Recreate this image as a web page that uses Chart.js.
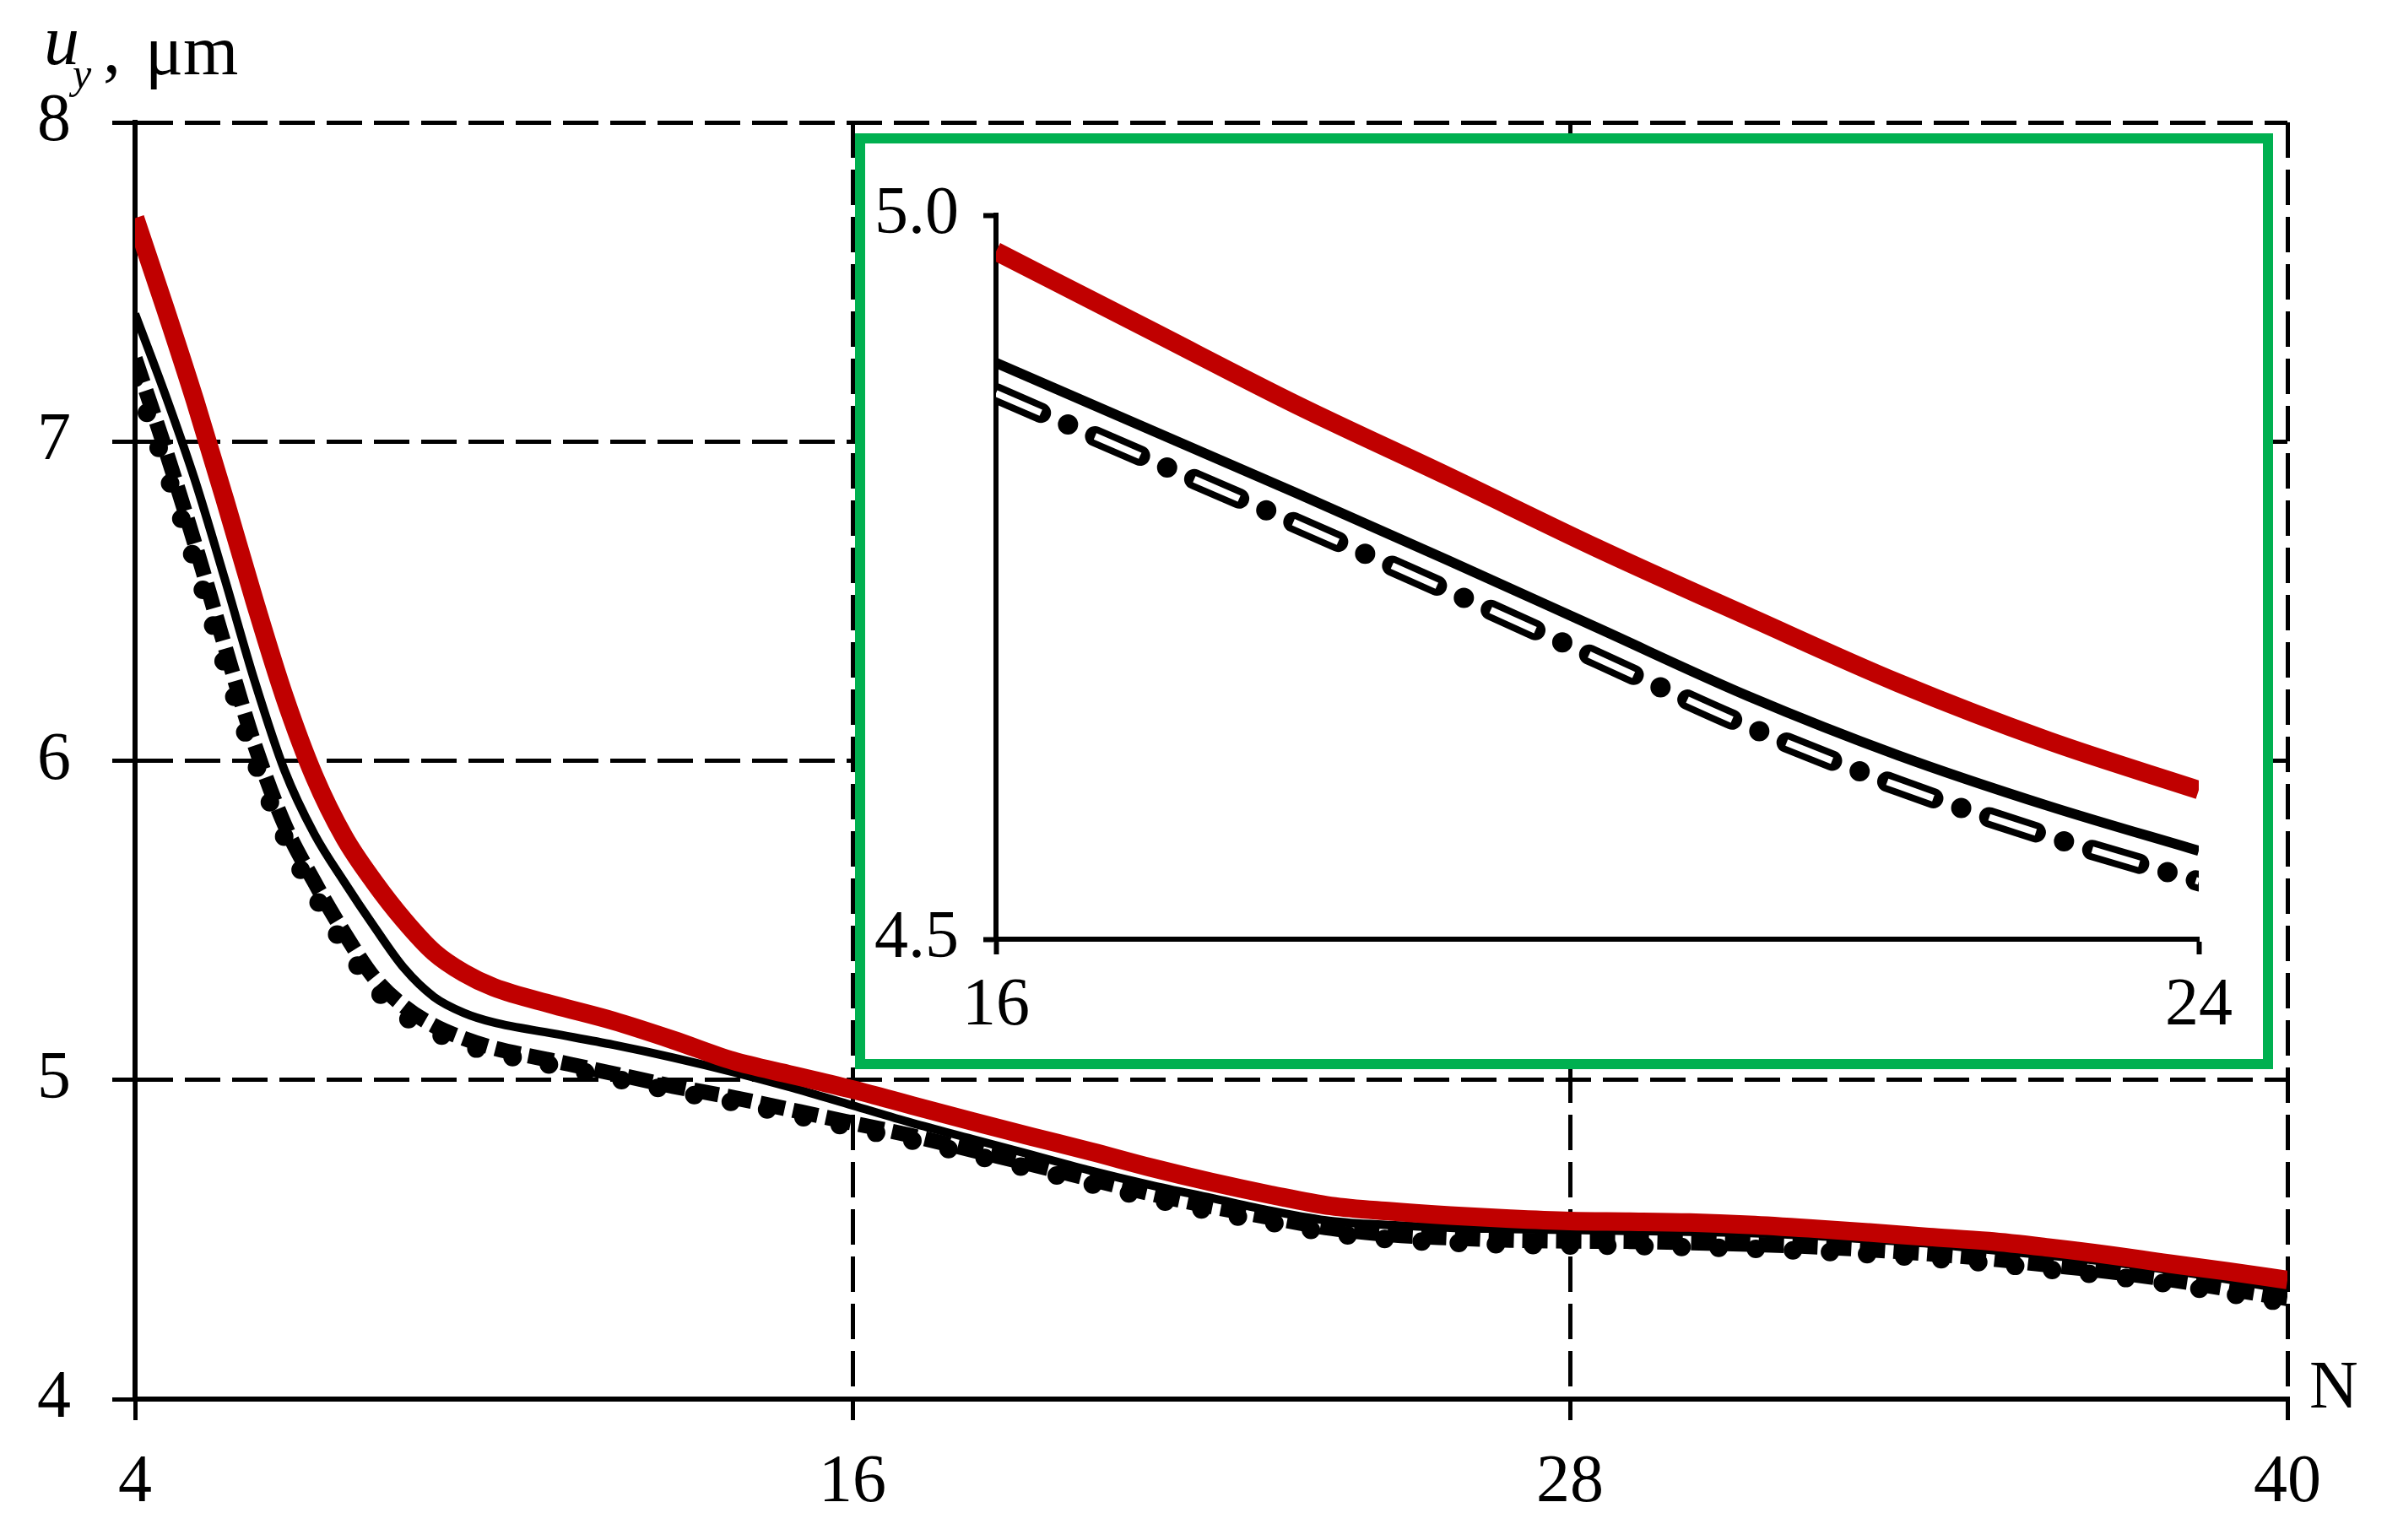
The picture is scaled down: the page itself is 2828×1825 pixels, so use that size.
<!DOCTYPE html>
<html lang="en">
<head>
<meta charset="UTF-8">
<title>u_y vs N</title>
<script src="https://cdn.jsdelivr.net/npm/chart.js"></script>
<style>
  html, body { margin: 0; padding: 0; background: #fff; }
  #wrap { position: relative; width: 2828px; height: 1825px; }
  #main { position: absolute; left: 0; top: 0; }
  #inset {
    position: absolute; left: 1013px; top: 158px; width: 1680px; height: 1109px;
    box-sizing: border-box; border: 12px solid #00B050; background: #fff;
  }
  #zoom { display: block; }
</style>
</head>
<body>
<div id="wrap">
  <canvas id="main" width="2828" height="1825"></canvas>
  <div id="inset"><canvas id="zoom" width="1656" height="1085"></canvas></div>
</div>

<script>
// ---- main chart data (N = number of cycles, u_y in µm) ----
const N_MAIN = [4, 4.5, 5, 5.5, 6, 6.5, 7, 7.5, 8, 8.5, 9, 9.5, 10,
  11, 12, 13, 14, 15, 16, 17, 18, 19, 20, 21, 22, 23, 24, 25, 26, 27, 28,
  29, 30, 31, 32, 33, 34, 35, 36, 37, 38, 39, 40];
const RED_MAIN = [7.70, 7.42, 7.13, 6.82, 6.50, 6.20, 5.95, 5.76, 5.62, 5.50, 5.40, 5.335, 5.29,
  5.235, 5.185, 5.125, 5.06, 5.015, 4.97, 4.92, 4.87, 4.822, 4.775, 4.725, 4.68, 4.64, 4.605,
  4.588, 4.575, 4.565, 4.558, 4.556, 4.553, 4.546, 4.535, 4.522, 4.508, 4.495, 4.475, 4.452,
  4.425, 4.40, 4.373];
const SOLID_MAIN = [7.40, 7.15, 6.88, 6.57, 6.25, 5.97, 5.77, 5.62, 5.48, 5.35, 5.26, 5.21, 5.18,
  5.145, 5.11, 5.07, 5.025, 4.975, 4.92, 4.865, 4.815, 4.765, 4.715, 4.67, 4.63, 4.59, 4.558,
  4.545, 4.537, 4.533, 4.53, 4.527, 4.524, 4.52, 4.512, 4.50, 4.487, 4.468, 4.45, 4.43,
  4.405, 4.375, 4.343];
const DASH_MAIN = [7.26, 6.98, 6.68, 6.36, 6.05, 5.80, 5.62, 5.46, 5.32, 5.23, 5.17, 5.13, 5.10,
  5.06, 5.02, 4.98, 4.945, 4.905, 4.865, 4.825, 4.78, 4.735, 4.688, 4.643, 4.603, 4.568, 4.535,
  4.515, 4.505, 4.498, 4.495, 4.494, 4.49, 4.485, 4.478, 4.468, 4.455, 4.44, 4.42, 4.40,
  4.375, 4.345, 4.315];
const DOT_MAIN = [7.20, 6.92, 6.62, 6.30, 6.00, 5.76, 5.58, 5.42, 5.29, 5.20, 5.15, 5.11, 5.085,
  5.045, 5.005, 4.965, 4.93, 4.89, 4.85, 4.81, 4.765, 4.72, 4.673, 4.628, 4.588, 4.553, 4.52,
  4.50, 4.49, 4.484, 4.481, 4.48, 4.476, 4.471, 4.464, 4.454, 4.441, 4.426, 4.406, 4.386,
  4.361, 4.331, 4.301];
const X_TICKS_MAIN = [4, 16, 28, 40];
const Y_TICKS_MAIN = [4, 5, 6, 7, 8];

// ---- inset data (zoom on N = 16..24) ----
const N_ZOOM = [16, 17, 18, 19, 20, 21, 22, 23, 24];
const RED_ZOOM = [4.975, 4.922, 4.869, 4.820, 4.770, 4.723, 4.677, 4.637, 4.603];
const SOLID_ZOOM = [4.898, 4.853, 4.808, 4.762, 4.715, 4.668, 4.627, 4.592, 4.561];
const DASHDOT_ZOOM = [4.877, 4.832, 4.787, 4.741, 4.694, 4.647, 4.606, 4.571, 4.540];
const X_TICKS_ZOOM = [16, 24];
const Y_TICKS_ZOOM = [4.5, 5.0];

const FONT = "'Liberation Serif', 'DejaVu Serif', serif";
const RED = '#C00000';

function pts(xs, ys) {
  return xs.map((x, i) => ({ x: x, y: ys[i] }));
}
function fixedTicks(list) {
  return function (scale) { scale.ticks = list.map(v => ({ value: v })); };
}

// axis title and "N"
const labelsPlugin = {
  id: 'axisLabels',
  afterDraw(chart) {
    const ctx = chart.ctx;
    ctx.save();
    ctx.fillStyle = '#000';
    ctx.textBaseline = 'alphabetic';
    ctx.font = 'italic 84px ' + FONT;
    ctx.fillText('u', 52, 76);
    ctx.font = 'italic 50px ' + FONT;
    ctx.fillText('y', 86, 104);
    ctx.font = '84px ' + FONT;
    ctx.fillText(',', 122, 86);
    ctx.fillText('\u03bcm', 172, 88);
    ctx.font = '80px ' + FONT;
    ctx.fillText('N', 2736, 1668);
    ctx.restore();
  }
};

const lineDefaults = { pointRadius: 0, cubicInterpolationMode: 'monotone', clip: 0, fill: false };

new Chart(document.getElementById('main'), {
  type: 'line',
  data: {
    datasets: [
      Object.assign({ data: pts(N_MAIN, RED_MAIN), borderColor: RED, borderWidth: 22 }, lineDefaults),
      Object.assign({ data: pts(N_MAIN, SOLID_MAIN), borderColor: '#000', borderWidth: 10 }, lineDefaults),
      Object.assign({ data: pts(N_MAIN, DASH_MAIN), borderColor: '#000', borderWidth: 18, borderDash: [30, 10] }, lineDefaults),
      Object.assign({ data: pts(N_MAIN, DOT_MAIN), borderColor: '#000', borderWidth: 22, borderDash: [0, 44], borderCapStyle: 'round' }, lineDefaults)
    ]
  },
  options: {
    responsive: false,
    animation: false,
    devicePixelRatio: 1,
    layout: { padding: { top: 145, right: 118, left: 0, bottom: 0 } },
    plugins: { legend: { display: false }, tooltip: { enabled: false } },
    scales: {
      x: {
        type: 'linear', min: 4, max: 40,
        afterBuildTicks: fixedTicks(X_TICKS_MAIN),
        afterFit: s => { s.height = 167; },
        ticks: { color: '#000', font: { family: FONT, size: 80 }, padding: 27, maxRotation: 0, autoSkip: false },
        grid: { color: '#000', lineWidth: 5, tickLength: 25, tickColor: '#000', tickWidth: 5 },
        border: { display: true, color: '#000', width: 6, dash: [42, 14] }
      },
      y: {
        type: 'linear', min: 4, max: 8,
        afterBuildTicks: fixedTicks(Y_TICKS_MAIN),
        afterFit: s => { s.width = 160; },
        ticks: { color: '#000', font: { family: FONT, size: 80 }, padding: 49 },
        grid: { color: '#000', lineWidth: 5, tickLength: 27, tickColor: '#000', tickWidth: 5 },
        border: { display: true, color: '#000', width: 6, dash: [42, 14] }
      }
    }
  },
  plugins: [labelsPlugin]
});

new Chart(document.getElementById('zoom'), {
  type: 'line',
  data: {
    datasets: [
      Object.assign({ data: pts(N_ZOOM, RED_ZOOM), borderColor: RED, borderWidth: 22 }, lineDefaults),
      Object.assign({ data: pts(N_ZOOM, SOLID_ZOOM), borderColor: '#000', borderWidth: 12 }, lineDefaults),
      // white core gives the hollow look of the dashes
      Object.assign({ data: pts(N_ZOOM, DASHDOT_ZOOM), borderColor: '#fff', borderWidth: 8, borderDash: [58, 70] }, lineDefaults),
      Object.assign({ data: pts(N_ZOOM, DASHDOT_ZOOM), borderColor: '#000', borderWidth: 24, borderDash: [58, 35, 0, 35], borderCapStyle: 'round' }, lineDefaults)
    ]
  },
  options: {
    responsive: false,
    animation: false,
    devicePixelRatio: 1,
    layout: { padding: { top: 85, right: 76, left: 0, bottom: 0 } },
    plugins: { legend: { display: false }, tooltip: { enabled: false } },
    scales: {
      x: {
        type: 'linear', min: 16, max: 24,
        afterBuildTicks: fixedTicks(X_TICKS_ZOOM),
        afterFit: s => { s.height = 142; },
        ticks: { color: '#000', font: { family: FONT, size: 80 }, padding: 14, maxRotation: 0, autoSkip: false },
        grid: { drawOnChartArea: false, tickLength: 18, tickColor: '#000', tickWidth: 6 },
        border: { display: true, color: '#000', width: 6 }
      },
      y: {
        type: 'linear', min: 4.5, max: 5.0,
        afterBuildTicks: fixedTicks(Y_TICKS_ZOOM),
        afterFit: s => { s.width = 155; },
        ticks: { color: '#000', font: { family: FONT, size: 80 }, padding: 29, callback: v => v.toFixed(1) },
        grid: { drawOnChartArea: false, tickLength: 15, tickColor: '#000', tickWidth: 6 },
        border: { display: true, color: '#000', width: 6 }
      }
    }
  }
});
</script>
</body>
</html>
